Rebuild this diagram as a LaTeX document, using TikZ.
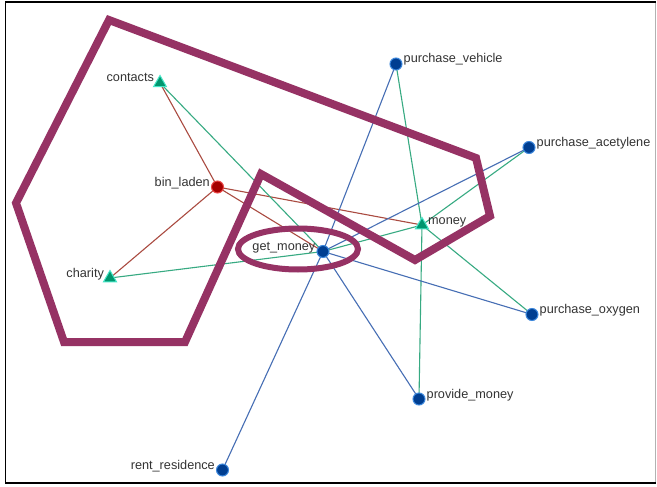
\documentclass[tikz,border=0pt]{standalone}
\usepackage{fontspec}
\setmainfont{Liberation Sans}
\usetikzlibrary{shapes.geometric}
\pgfdeclarelayer{bg}
\pgfsetlayers{bg,main}
\definecolor{nblue}{RGB}{0,62,145}
\definecolor{nblueo}{RGB}{60,135,220}
\definecolor{nred}{RGB}{165,0,0}
\definecolor{nredo}{RGB}{235,70,70}
\definecolor{ngreen}{RGB}{0,150,110}
\definecolor{ngreeno}{RGB}{70,230,200}
\definecolor{ered}{RGB}{170,75,65}
\definecolor{egreen}{RGB}{55,170,130}
\definecolor{eblue}{RGB}{70,110,180}
\definecolor{hull}{RGB}{150,50,100}
\begin{document}
\begin{tikzpicture}[x=1pt,y=-1pt,
  bnode/.style={circle,fill=nblue,draw=nblueo,line width=1pt,minimum size=12pt,inner sep=0pt},
  rnode/.style={circle,fill=nred,draw=nredo,line width=1pt,minimum size=12pt,inner sep=0pt},
  tnode/.style={regular polygon,regular polygon sides=3,fill=ngreen,draw=ngreeno,line width=1pt,minimum size=15pt,inner sep=0pt},
  lbl/.style={font=\fontsize{12.7}{14}\selectfont,inner sep=0pt,text=black!80},
  lblR/.style={label={[lbl,anchor=base west,yshift=1pt,xshift=1pt]east:#1}},
  lblL/.style={label={[lbl,anchor=base east,yshift=1pt,xshift=-1pt]west:#1}},
  eR/.style={draw=ered,line width=1.1pt},
  eG/.style={draw=egreen,line width=1.1pt},
  eB/.style={draw=eblue,line width=1.1pt},
  hullline/.style={draw=hull,line width=8pt,line join=miter},
  ellline/.style={draw=hull,line width=6pt}]
\useasboundingbox (0,0) rectangle (657,487);

\node[tnode,lblL=contacts] (contacts) at (160,83) {};
\node[rnode,lblL=bin\_laden] (bin) at (217.5,187) {};
\node[tnode,lblL=charity] (charity) at (110,278) {};
\node[bnode,lblL=get\_money] (get) at (323,251.5) {};
\node[tnode,lblR=money] (money) at (422,225) {};
\node[bnode,lblR=purchase\_vehicle] (veh) at (396,64) {};
\node[bnode,lblR=purchase\_acetylene] (acet) at (529,147.5) {};
\node[bnode,lblR=purchase\_oxygen] (oxy) at (532,314.5) {};
\node[bnode,lblR=provide\_money] (prov) at (419,399) {};
\node[bnode,lblL=rent\_residence] (rent) at (222.5,470) {};

\begin{pgfonlayer}{bg}
\fill[white] (0,0) rectangle (657,487);
\draw[black,line width=1.8pt] (5.5,2) rectangle (655.5,483);
\draw[gray!60,line width=1.8pt] (655.5,2.9) -- (655.5,482.1);
\draw[eR] (bin.center) -- (contacts.center);
\draw[eR] (bin.center) -- (charity.center);
\draw[eR] (bin.center) -- (money.center);
\draw[eR] (bin.center) -- (get.center);
\draw[eG] (contacts.center) -- (get.center);
\draw[eG] (charity.center) -- (get.center);
\draw[eG] (get.center) -- (money.center);
\draw[eG] (money.center) -- (veh.center);
\draw[eG] (money.center) -- (acet.center);
\draw[eG] (money.center) -- (oxy.center);
\draw[eG] (money.center) -- (prov.center);
\draw[eB] (get.center) -- (veh.center);
\draw[eB] (get.center) -- (acet.center);
\draw[eB] (get.center) -- (oxy.center);
\draw[eB] (get.center) -- (prov.center);
\draw[eB] (get.center) -- (rent.center);
\end{pgfonlayer}

\draw[hullline] (109,20) -- (476,158) -- (490,216) -- (415,260) -- (261,174) -- (185,342) -- (64,342) -- (16,203) -- cycle;
\draw[ellline] (298,249) ellipse [x radius=60,y radius=20.5];
\end{tikzpicture}
\end{document}
